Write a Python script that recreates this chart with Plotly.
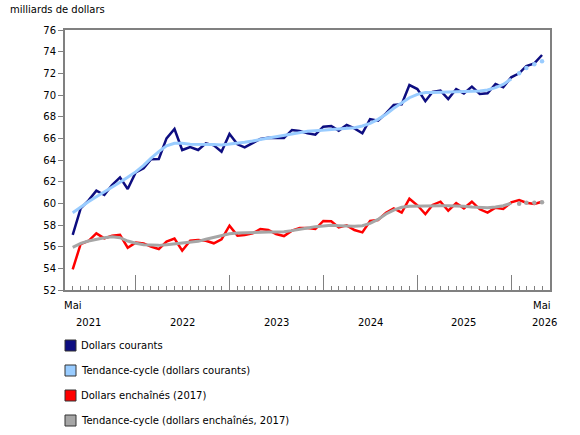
import pandas as pd
import plotly.graph_objects as go

months = pd.date_range("2021-05-01", "2026-05-01", freq="MS")

courants = [57.08, 59.54, 60.25, 61.17, 60.77, 61.69, 62.40, 61.32, 62.86, 63.23,
            64.06, 64.09, 66.00, 66.86, 64.92, 65.20, 64.92, 65.54, 65.35, 64.77,
            66.40, 65.45, 65.17, 65.60, 65.94, 66.06, 66.06, 66.03, 66.77, 66.68,
            66.46, 66.34, 67.08, 67.14, 66.71, 67.23, 66.92, 66.46, 67.78, 67.63,
            68.31, 69.08, 69.14, 70.92, 70.55, 69.43, 70.28, 70.40, 69.63, 70.55,
            70.15, 70.77, 70.09, 70.15, 71.02, 70.71, 71.63, 72.00, 72.68, 72.92,
            73.69]
tendance_courants = [59.14, 59.69, 60.15, 60.60, 61.08, 61.54, 61.95, 62.40, 62.90, 63.50,
                     64.15, 64.77, 65.30, 65.54, 65.54, 65.45, 65.45, 65.45, 65.42, 65.38,
                     65.45, 65.54, 65.63, 65.75, 65.91, 66.03, 66.15, 66.28, 66.46, 66.58,
                     66.66, 66.71, 66.77, 66.83, 66.86, 66.92, 66.98, 67.14, 67.38, 67.75,
                     68.22, 68.77, 69.29, 69.75, 70.06, 70.22, 70.23, 70.25, 70.25, 70.25,
                     70.28, 70.31, 70.37, 70.46, 70.68, 70.98, 71.48, 72.00, 72.49, 72.83,
                     73.11]
enchaines = [53.90, 56.25, 56.52, 57.23, 56.77, 57.00, 57.10, 55.90, 56.37, 56.30,
             56.00, 55.78, 56.46, 56.74, 55.63, 56.55, 56.62, 56.55, 56.31, 56.68,
             57.94, 57.02, 57.08, 57.23, 57.63, 57.54, 57.17, 56.98, 57.48, 57.72,
             57.72, 57.63, 58.37, 58.34, 57.78, 57.97, 57.54, 57.32, 58.37, 58.46,
             59.14, 59.54, 59.14, 60.43, 59.82, 59.00, 59.85, 60.15, 59.32, 60.03,
             59.54, 60.15, 59.45, 59.14, 59.60, 59.48, 60.09, 60.31, 60.06, 59.94,
             60.15]
tendance_enchaines = [55.94, 56.31, 56.52, 56.70, 56.83, 56.92, 56.83, 56.52, 56.31, 56.18,
                      56.12, 56.12, 56.18, 56.25, 56.28, 56.37, 56.49, 56.68, 56.86, 57.05,
                      57.20, 57.26, 57.29, 57.32, 57.35, 57.35, 57.35, 57.38, 57.48, 57.63,
                      57.72, 57.85, 57.94, 57.97, 57.94, 57.91, 57.88, 57.94, 58.15, 58.52,
                      59.02, 59.38, 59.63, 59.72, 59.75, 59.72, 59.75, 59.78, 59.78, 59.78,
                      59.72, 59.66, 59.60, 59.60, 59.66, 59.78, 60.00, 59.97, 60.06, 60.06,
                      60.09]

legend_labels = ["Dollars courants", "Tendance-cycle (dollars courants)",
                 "Dollars enchaînés (2017)", "Tendance-cycle (dollars enchaînés, 2017)"]
colors = ["#0d0d80", "#99ccff", "#ff0000", "#a6a6a6"]
year_labels = ["2021", "2022", "2023", "2024", "2025", "2026"]
year_label_pos = ["2021-07-01", "2022-07-01", "2023-07-01", "2024-07-01", "2025-07-01", "2026-05-10"]

N_SOLID = 57  # trend-cycle points drawn as a line; the rest as dots

W, H = 580, 435
L, R, T, B = 65, 30, 30, 145
PW, PH = W - L - R, H - T - B

def px(xp):
    return (xp - L) / PW

def py(yp):
    return (H - B - yp) / PH

fig = go.Figure()
fig.add_trace(go.Scatter(x=months, y=courants, mode="lines",
                         line=dict(color=colors[0], width=2.5), showlegend=False))
fig.add_trace(go.Scatter(x=months[:N_SOLID], y=tendance_courants[:N_SOLID], mode="lines",
                         line=dict(color=colors[1], width=3), showlegend=False))
fig.add_trace(go.Scatter(x=months[N_SOLID:], y=tendance_courants[N_SOLID:], mode="markers",
                         marker=dict(color=colors[1], size=4.5), showlegend=False))
fig.add_trace(go.Scatter(x=months, y=enchaines, mode="lines",
                         line=dict(color=colors[2], width=2.5), showlegend=False))
fig.add_trace(go.Scatter(x=months[:N_SOLID], y=tendance_enchaines[:N_SOLID], mode="lines",
                         line=dict(color=colors[3], width=3), showlegend=False))
fig.add_trace(go.Scatter(x=months[N_SOLID:], y=tendance_enchaines[N_SOLID:], mode="markers",
                         marker=dict(color=colors[3], size=4.5), showlegend=False))

font = "DejaVu Sans, Verdana, sans-serif"
annotations = []
# x-axis labels
annotations.append(dict(x=months[0], y=py(305), xref="x", yref="paper", text="Mai",
                        showarrow=False, font=dict(size=10, color="#000"), xanchor="center", yanchor="middle"))
annotations.append(dict(x=months[-1], y=py(305), xref="x", yref="paper", text="Mai",
                        showarrow=False, font=dict(size=10, color="#000"), xanchor="center", yanchor="middle"))
for lab, pos in zip(year_labels, year_label_pos):
    annotations.append(dict(x=pos, y=py(322), xref="x", yref="paper", text=lab,
                            showarrow=False, font=dict(size=10, color="#000"),
                            xanchor="center", yanchor="middle"))

shapes = []
for k, (lab, col) in enumerate(zip(legend_labels, colors)):
    cy = 345.5 + 25 * k
    shapes.append(dict(type="rect", xref="paper", yref="paper",
                       x0=px(65), x1=px(76), y0=py(cy - 5.5), y1=py(cy + 5.5),
                       fillcolor=col, line=dict(color="#333333", width=1)))
    annotations.append(dict(x=px(79), y=py(cy), xref="paper", yref="paper", text=lab,
                            showarrow=False, font=dict(size=10, color="#000"),
                            xanchor="left", yanchor="middle"))

fig.update_layout(
    width=W, height=H,
    margin=dict(l=L, r=R, t=T, b=B),
    paper_bgcolor="white", plot_bgcolor="white",
    font=dict(family=font, size=10, color="#000"),
    title=dict(text="milliards de dollars", x=10 / W, y=1 - 9 / H, xref="container", yref="container",
               xanchor="left", yanchor="middle", font=dict(size=10, color="#000")),
    showlegend=False,
    annotations=annotations,
    shapes=shapes,
    xaxis=dict(type="date", range=["2021-04-01", "2026-06-01"],
               showgrid=False, zeroline=False,
               showline=True, linecolor="#808080", linewidth=2, mirror=True,
               ticks="inside", ticklen=15, tickcolor="#808080", tickwidth=1,
               tick0="2022-01-01", dtick="M12", showticklabels=False,
               minor=dict(ticks="inside", ticklen=4, tickcolor="#808080", tickwidth=1,
                          dtick="M1", tick0="2021-05-01", showgrid=False)),
    yaxis=dict(range=[52, 76], dtick=2, tick0=52,
               showgrid=False, zeroline=False,
               showline=True, linecolor="#808080", linewidth=2, mirror=True,
               ticks="outside", ticklen=5, tickcolor="#808080", tickwidth=1,
               tickfont=dict(size=10, color="#000")),
)

fig.write_html("out.html")
